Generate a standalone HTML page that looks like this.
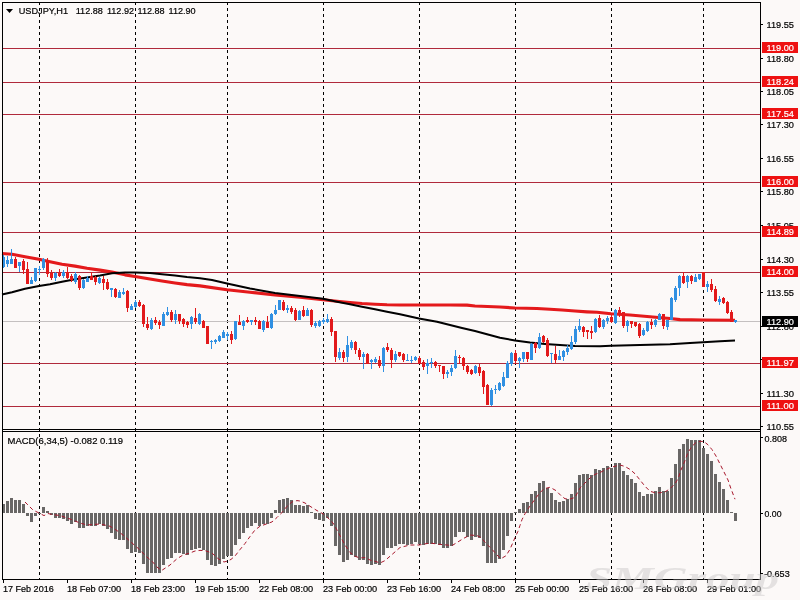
<!DOCTYPE html><html><head><meta charset="utf-8"><title>USDJPY,H1</title>
<style>html,body{margin:0;padding:0;background:#fcf9f8;overflow:hidden}svg{display:block;will-change:transform;opacity:0.999}text{font-family:"Liberation Sans",sans-serif;stroke-width:0.2px;paint-order:stroke}</style></head><body>
<svg width="800" height="600" viewBox="0 0 800 600">
<rect x="0" y="0" width="800" height="600" fill="#fcf9f8"/>
<g shape-rendering="crispEdges" stroke="#000" stroke-width="1" stroke-dasharray="3,3">
<line x1="39.5" y1="2" x2="39.5" y2="579"/>
<line x1="135.5" y1="2" x2="135.5" y2="579"/>
<line x1="227.5" y1="2" x2="227.5" y2="579"/>
<line x1="323.5" y1="2" x2="323.5" y2="579"/>
<line x1="419.5" y1="2" x2="419.5" y2="579"/>
<line x1="515.5" y1="2" x2="515.5" y2="579"/>
<line x1="611.5" y1="2" x2="611.5" y2="579"/>
<line x1="703.5" y1="2" x2="703.5" y2="579"/>
</g>
<g shape-rendering="crispEdges">
<rect x="3" y="48" width="757" height="1" fill="#b02a3c"/>
<rect x="3" y="82" width="757" height="1" fill="#b02a3c"/>
<rect x="3" y="114" width="757" height="1" fill="#b02a3c"/>
<rect x="3" y="182" width="757" height="1" fill="#b02a3c"/>
<rect x="3" y="232" width="757" height="1" fill="#b02a3c"/>
<rect x="3" y="272" width="757" height="1" fill="#b02a3c"/>
<rect x="3" y="363" width="757" height="1" fill="#b02a3c"/>
<rect x="3" y="406" width="757" height="1" fill="#b02a3c"/>
<rect x="3" y="321" width="757" height="1" fill="#c4c0c0"/>
</g>
<polyline fill="none" stroke="#e41a1c" stroke-width="3.2" stroke-linejoin="round" points="2,253.5 12,254.25 25,256.75 39,259.25 50,261.75 62,264.25 75,266.1 87,268.25 100,270.1 112,272 125,274.8 135,276.5 150,279 162,281 175,283 187,284.7 200,285.8 227,289.75 250,292.25 275,295 300,297.25 323,299.75 337,301.25 350,302.5 362,303.5 375,304.25 387,304.75 400,305 419,305 450,305 467,305.2 475,306 500,307 515,308 537,308.5 550,309.25 562,310 575,311 587,311.8 597,312.25 611,313.75 630,315 650,316.75 670,318.5 680,319.7 703,320 735,320.25"/>
<polyline fill="none" stroke="#000" stroke-width="2" stroke-linejoin="round" points="2,294.5 12,292.2 25,288.7 39,286.1 50,284.25 62,281.75 75,279.25 87,277.5 100,275.5 112,273.3 125,272.5 135,272.5 150,273 162,274.25 175,275.5 187,277 200,278.3 212,280 227,283.5 250,288.5 275,293 300,296 323,298.75 337,301.75 350,304.25 362,306.75 375,309.25 387,311.75 400,314.25 419,318.5 437,321.75 450,325 462,328 475,331 487,334.25 500,337.8 515,340.5 530,342.5 545,343.9 560,345 575,346 600,346.2 611,345.7 640,344.9 670,344.25 690,343 703,342.25 720,341.25 735,340.5"/>
<g shape-rendering="crispEdges">
<rect x="3" y="255" width="1" height="13" fill="#3090e2"/>
<rect x="3" y="257" width="2" height="10" fill="#3090e2"/>
<rect x="7" y="256" width="1" height="11" fill="#3090e2"/>
<rect x="6" y="260" width="3" height="4" fill="#3090e2"/>
<rect x="11" y="249" width="1" height="15" fill="#3090e2"/>
<rect x="10" y="259" width="3" height="5" fill="#3090e2"/>
<rect x="15" y="257" width="1" height="11" fill="#e21a1c"/>
<rect x="14" y="259" width="3" height="9" fill="#e21a1c"/>
<rect x="19" y="262" width="1" height="10" fill="#3090e2"/>
<rect x="18" y="262" width="3" height="4" fill="#3090e2"/>
<rect x="23" y="259" width="1" height="15" fill="#e21a1c"/>
<rect x="22" y="261" width="3" height="9" fill="#e21a1c"/>
<rect x="27" y="262" width="1" height="22" fill="#e21a1c"/>
<rect x="26" y="269" width="3" height="15" fill="#e21a1c"/>
<rect x="31" y="277" width="1" height="7" fill="#3090e2"/>
<rect x="30" y="280" width="3" height="4" fill="#3090e2"/>
<rect x="35" y="268" width="1" height="14" fill="#3090e2"/>
<rect x="34" y="268" width="3" height="13" fill="#3090e2"/>
<rect x="39" y="266" width="1" height="9" fill="#3090e2"/>
<rect x="38" y="269" width="3" height="1" fill="#3090e2"/>
<rect x="43" y="258" width="1" height="12" fill="#3090e2"/>
<rect x="42" y="259" width="3" height="9" fill="#3090e2"/>
<rect x="47" y="258" width="1" height="19" fill="#e21a1c"/>
<rect x="46" y="260" width="3" height="14" fill="#e21a1c"/>
<rect x="51" y="270" width="1" height="10" fill="#e21a1c"/>
<rect x="50" y="273" width="3" height="5" fill="#e21a1c"/>
<rect x="55" y="272" width="1" height="9" fill="#3090e2"/>
<rect x="54" y="273" width="3" height="5" fill="#3090e2"/>
<rect x="59" y="269" width="1" height="8" fill="#e21a1c"/>
<rect x="58" y="273" width="3" height="3" fill="#e21a1c"/>
<rect x="63" y="270" width="1" height="8" fill="#3090e2"/>
<rect x="62" y="272" width="3" height="4" fill="#3090e2"/>
<rect x="67" y="267" width="1" height="12" fill="#e21a1c"/>
<rect x="66" y="272" width="3" height="6" fill="#e21a1c"/>
<rect x="71" y="274" width="1" height="8" fill="#e21a1c"/>
<rect x="70" y="276" width="3" height="4" fill="#e21a1c"/>
<rect x="75" y="272" width="1" height="12" fill="#3090e2"/>
<rect x="74" y="274" width="3" height="8" fill="#3090e2"/>
<rect x="79" y="275" width="1" height="15" fill="#e21a1c"/>
<rect x="78" y="276" width="3" height="12" fill="#e21a1c"/>
<rect x="83" y="279" width="1" height="10" fill="#3090e2"/>
<rect x="82" y="280" width="3" height="8" fill="#3090e2"/>
<rect x="87" y="276" width="1" height="6" fill="#3090e2"/>
<rect x="86" y="278" width="3" height="4" fill="#3090e2"/>
<rect x="91" y="272" width="1" height="8" fill="#e21a1c"/>
<rect x="90" y="276" width="3" height="4" fill="#e21a1c"/>
<rect x="95" y="276" width="1" height="9" fill="#e21a1c"/>
<rect x="94" y="277" width="3" height="5" fill="#e21a1c"/>
<rect x="99" y="277" width="1" height="7" fill="#3090e2"/>
<rect x="98" y="278" width="3" height="5" fill="#3090e2"/>
<rect x="103" y="276" width="1" height="14" fill="#e21a1c"/>
<rect x="102" y="279" width="3" height="4" fill="#e21a1c"/>
<rect x="107" y="279" width="1" height="11" fill="#e21a1c"/>
<rect x="106" y="282" width="3" height="7" fill="#e21a1c"/>
<rect x="111" y="288" width="1" height="9" fill="#3090e2"/>
<rect x="110" y="288" width="3" height="2" fill="#3090e2"/>
<rect x="115" y="288" width="1" height="10" fill="#e21a1c"/>
<rect x="114" y="289" width="3" height="8" fill="#e21a1c"/>
<rect x="119" y="290" width="1" height="8" fill="#3090e2"/>
<rect x="118" y="292" width="3" height="6" fill="#3090e2"/>
<rect x="123" y="288" width="1" height="7" fill="#3090e2"/>
<rect x="122" y="292" width="3" height="2" fill="#3090e2"/>
<rect x="127" y="290" width="1" height="22" fill="#e21a1c"/>
<rect x="126" y="291" width="3" height="17" fill="#e21a1c"/>
<rect x="131" y="304" width="1" height="6" fill="#3090e2"/>
<rect x="130" y="306" width="3" height="4" fill="#3090e2"/>
<rect x="135" y="300" width="1" height="8" fill="#3090e2"/>
<rect x="134" y="302" width="3" height="5" fill="#3090e2"/>
<rect x="139" y="300" width="1" height="7" fill="#e21a1c"/>
<rect x="138" y="302" width="3" height="4" fill="#e21a1c"/>
<rect x="143" y="304" width="1" height="23" fill="#e21a1c"/>
<rect x="142" y="305" width="3" height="19" fill="#e21a1c"/>
<rect x="147" y="317" width="1" height="13" fill="#e21a1c"/>
<rect x="146" y="324" width="3" height="4" fill="#e21a1c"/>
<rect x="151" y="318" width="1" height="12" fill="#3090e2"/>
<rect x="150" y="320" width="3" height="9" fill="#3090e2"/>
<rect x="155" y="317" width="1" height="8" fill="#e21a1c"/>
<rect x="154" y="320" width="3" height="3" fill="#e21a1c"/>
<rect x="159" y="320" width="1" height="9" fill="#e21a1c"/>
<rect x="158" y="322" width="3" height="3" fill="#e21a1c"/>
<rect x="163" y="312" width="1" height="14" fill="#3090e2"/>
<rect x="162" y="314" width="3" height="12" fill="#3090e2"/>
<rect x="167" y="307" width="1" height="9" fill="#3090e2"/>
<rect x="166" y="312" width="3" height="3" fill="#3090e2"/>
<rect x="171" y="310" width="1" height="12" fill="#e21a1c"/>
<rect x="170" y="312" width="3" height="8" fill="#e21a1c"/>
<rect x="175" y="310" width="1" height="14" fill="#3090e2"/>
<rect x="174" y="314" width="3" height="6" fill="#3090e2"/>
<rect x="179" y="314" width="1" height="10" fill="#e21a1c"/>
<rect x="178" y="314" width="3" height="7" fill="#e21a1c"/>
<rect x="183" y="318" width="1" height="9" fill="#e21a1c"/>
<rect x="182" y="319" width="3" height="5" fill="#e21a1c"/>
<rect x="187" y="321" width="1" height="7" fill="#e21a1c"/>
<rect x="186" y="322" width="3" height="3" fill="#e21a1c"/>
<rect x="191" y="316" width="1" height="13" fill="#3090e2"/>
<rect x="190" y="317" width="3" height="7" fill="#3090e2"/>
<rect x="195" y="308" width="1" height="16" fill="#e21a1c"/>
<rect x="194" y="318" width="3" height="4" fill="#e21a1c"/>
<rect x="199" y="313" width="1" height="12" fill="#3090e2"/>
<rect x="198" y="314" width="3" height="10" fill="#3090e2"/>
<rect x="203" y="320" width="1" height="8" fill="#e21a1c"/>
<rect x="202" y="321" width="3" height="7" fill="#e21a1c"/>
<rect x="207" y="326" width="1" height="18" fill="#e21a1c"/>
<rect x="206" y="326" width="3" height="18" fill="#e21a1c"/>
<rect x="211" y="340" width="1" height="9" fill="#3090e2"/>
<rect x="210" y="341" width="3" height="1" fill="#3090e2"/>
<rect x="215" y="339" width="1" height="5" fill="#3090e2"/>
<rect x="214" y="340" width="3" height="2" fill="#3090e2"/>
<rect x="219" y="335" width="1" height="7" fill="#3090e2"/>
<rect x="218" y="336" width="3" height="5" fill="#3090e2"/>
<rect x="223" y="330" width="1" height="8" fill="#3090e2"/>
<rect x="222" y="332" width="3" height="6" fill="#3090e2"/>
<rect x="227" y="332" width="1" height="8" fill="#3090e2"/>
<rect x="226" y="334" width="3" height="2" fill="#3090e2"/>
<rect x="231" y="331" width="1" height="13" fill="#e21a1c"/>
<rect x="230" y="334" width="3" height="6" fill="#e21a1c"/>
<rect x="235" y="321" width="1" height="19" fill="#3090e2"/>
<rect x="234" y="321" width="3" height="18" fill="#3090e2"/>
<rect x="239" y="315" width="1" height="10" fill="#e21a1c"/>
<rect x="238" y="322" width="3" height="3" fill="#e21a1c"/>
<rect x="243" y="320" width="1" height="10" fill="#3090e2"/>
<rect x="242" y="321" width="3" height="5" fill="#3090e2"/>
<rect x="247" y="317" width="1" height="6" fill="#e21a1c"/>
<rect x="246" y="320" width="3" height="2" fill="#e21a1c"/>
<rect x="251" y="320" width="1" height="5" fill="#3090e2"/>
<rect x="250" y="320" width="3" height="2" fill="#3090e2"/>
<rect x="255" y="317" width="1" height="8" fill="#e21a1c"/>
<rect x="254" y="320" width="3" height="2" fill="#e21a1c"/>
<rect x="259" y="320" width="1" height="9" fill="#e21a1c"/>
<rect x="258" y="321" width="3" height="8" fill="#e21a1c"/>
<rect x="263" y="320" width="1" height="12" fill="#3090e2"/>
<rect x="262" y="321" width="3" height="9" fill="#3090e2"/>
<rect x="267" y="316" width="1" height="12" fill="#e21a1c"/>
<rect x="266" y="322" width="3" height="6" fill="#e21a1c"/>
<rect x="271" y="313" width="1" height="16" fill="#3090e2"/>
<rect x="270" y="314" width="3" height="14" fill="#3090e2"/>
<rect x="275" y="305" width="1" height="10" fill="#3090e2"/>
<rect x="274" y="310" width="3" height="4" fill="#3090e2"/>
<rect x="279" y="300" width="1" height="10" fill="#3090e2"/>
<rect x="278" y="300" width="3" height="10" fill="#3090e2"/>
<rect x="283" y="300" width="1" height="11" fill="#e21a1c"/>
<rect x="282" y="302" width="3" height="8" fill="#e21a1c"/>
<rect x="287" y="305" width="1" height="8" fill="#3090e2"/>
<rect x="286" y="308" width="3" height="2" fill="#3090e2"/>
<rect x="291" y="306" width="1" height="8" fill="#e21a1c"/>
<rect x="290" y="308" width="3" height="4" fill="#e21a1c"/>
<rect x="295" y="308" width="1" height="13" fill="#e21a1c"/>
<rect x="294" y="310" width="3" height="10" fill="#e21a1c"/>
<rect x="299" y="310" width="1" height="10" fill="#3090e2"/>
<rect x="298" y="311" width="3" height="9" fill="#3090e2"/>
<rect x="303" y="306" width="1" height="11" fill="#e21a1c"/>
<rect x="302" y="310" width="3" height="6" fill="#e21a1c"/>
<rect x="307" y="308" width="1" height="8" fill="#3090e2"/>
<rect x="306" y="310" width="3" height="6" fill="#3090e2"/>
<rect x="311" y="309" width="1" height="18" fill="#e21a1c"/>
<rect x="310" y="310" width="3" height="15" fill="#e21a1c"/>
<rect x="315" y="321" width="1" height="7" fill="#3090e2"/>
<rect x="314" y="323" width="3" height="3" fill="#3090e2"/>
<rect x="319" y="320" width="1" height="7" fill="#3090e2"/>
<rect x="318" y="321" width="3" height="5" fill="#3090e2"/>
<rect x="323" y="318" width="1" height="6" fill="#3090e2"/>
<rect x="322" y="320" width="3" height="2" fill="#3090e2"/>
<rect x="327" y="314" width="1" height="9" fill="#3090e2"/>
<rect x="326" y="319" width="3" height="3" fill="#3090e2"/>
<rect x="331" y="317" width="1" height="19" fill="#e21a1c"/>
<rect x="330" y="319" width="3" height="13" fill="#e21a1c"/>
<rect x="335" y="331" width="1" height="31" fill="#e21a1c"/>
<rect x="334" y="331" width="3" height="26" fill="#e21a1c"/>
<rect x="339" y="348" width="1" height="12" fill="#3090e2"/>
<rect x="338" y="352" width="3" height="6" fill="#3090e2"/>
<rect x="343" y="350" width="1" height="12" fill="#e21a1c"/>
<rect x="342" y="352" width="3" height="6" fill="#e21a1c"/>
<rect x="347" y="336" width="1" height="26" fill="#3090e2"/>
<rect x="346" y="345" width="3" height="12" fill="#3090e2"/>
<rect x="351" y="340" width="1" height="10" fill="#3090e2"/>
<rect x="350" y="342" width="3" height="6" fill="#3090e2"/>
<rect x="355" y="341" width="1" height="13" fill="#e21a1c"/>
<rect x="354" y="342" width="3" height="8" fill="#e21a1c"/>
<rect x="359" y="348" width="1" height="12" fill="#e21a1c"/>
<rect x="358" y="350" width="3" height="7" fill="#e21a1c"/>
<rect x="363" y="352" width="1" height="17" fill="#3090e2"/>
<rect x="362" y="354" width="3" height="3" fill="#3090e2"/>
<rect x="367" y="353" width="1" height="11" fill="#e21a1c"/>
<rect x="366" y="354" width="3" height="10" fill="#e21a1c"/>
<rect x="371" y="359" width="1" height="10" fill="#3090e2"/>
<rect x="370" y="360" width="3" height="2" fill="#3090e2"/>
<rect x="375" y="357" width="1" height="6" fill="#3090e2"/>
<rect x="374" y="359" width="3" height="3" fill="#3090e2"/>
<rect x="379" y="356" width="1" height="12" fill="#e21a1c"/>
<rect x="378" y="360" width="3" height="6" fill="#e21a1c"/>
<rect x="383" y="347" width="1" height="25" fill="#3090e2"/>
<rect x="382" y="348" width="3" height="18" fill="#3090e2"/>
<rect x="387" y="343" width="1" height="9" fill="#e21a1c"/>
<rect x="386" y="347" width="3" height="3" fill="#e21a1c"/>
<rect x="391" y="348" width="1" height="20" fill="#e21a1c"/>
<rect x="390" y="350" width="3" height="10" fill="#e21a1c"/>
<rect x="395" y="351" width="1" height="11" fill="#3090e2"/>
<rect x="394" y="354" width="3" height="6" fill="#3090e2"/>
<rect x="399" y="352" width="1" height="5" fill="#e21a1c"/>
<rect x="398" y="352" width="3" height="4" fill="#e21a1c"/>
<rect x="403" y="353" width="1" height="9" fill="#e21a1c"/>
<rect x="402" y="354" width="3" height="6" fill="#e21a1c"/>
<rect x="407" y="354" width="1" height="6" fill="#3090e2"/>
<rect x="406" y="360" width="3" height="1" fill="#3090e2"/>
<rect x="411" y="356" width="1" height="7" fill="#3090e2"/>
<rect x="410" y="360" width="3" height="1" fill="#3090e2"/>
<rect x="415" y="356" width="1" height="5" fill="#3090e2"/>
<rect x="414" y="357" width="3" height="3" fill="#3090e2"/>
<rect x="419" y="356" width="1" height="8" fill="#e21a1c"/>
<rect x="418" y="358" width="3" height="6" fill="#e21a1c"/>
<rect x="423" y="360" width="1" height="10" fill="#e21a1c"/>
<rect x="422" y="362" width="3" height="5" fill="#e21a1c"/>
<rect x="427" y="359" width="1" height="15" fill="#3090e2"/>
<rect x="426" y="363" width="3" height="3" fill="#3090e2"/>
<rect x="431" y="358" width="1" height="10" fill="#3090e2"/>
<rect x="430" y="362" width="3" height="1" fill="#3090e2"/>
<rect x="435" y="361" width="1" height="7" fill="#e21a1c"/>
<rect x="434" y="362" width="3" height="4" fill="#e21a1c"/>
<rect x="439" y="365" width="1" height="7" fill="#e21a1c"/>
<rect x="438" y="365" width="3" height="1" fill="#e21a1c"/>
<rect x="443" y="366" width="1" height="13" fill="#e21a1c"/>
<rect x="442" y="366" width="3" height="8" fill="#e21a1c"/>
<rect x="447" y="370" width="1" height="8" fill="#3090e2"/>
<rect x="446" y="372" width="3" height="2" fill="#3090e2"/>
<rect x="451" y="365" width="1" height="11" fill="#3090e2"/>
<rect x="450" y="368" width="3" height="4" fill="#3090e2"/>
<rect x="455" y="350" width="1" height="19" fill="#3090e2"/>
<rect x="454" y="356" width="3" height="12" fill="#3090e2"/>
<rect x="459" y="355" width="1" height="9" fill="#e21a1c"/>
<rect x="458" y="357" width="3" height="1" fill="#e21a1c"/>
<rect x="463" y="357" width="1" height="13" fill="#e21a1c"/>
<rect x="462" y="358" width="3" height="8" fill="#e21a1c"/>
<rect x="467" y="365" width="1" height="9" fill="#e21a1c"/>
<rect x="466" y="366" width="3" height="6" fill="#e21a1c"/>
<rect x="471" y="369" width="1" height="6" fill="#e21a1c"/>
<rect x="470" y="370" width="3" height="4" fill="#e21a1c"/>
<rect x="475" y="365" width="1" height="9" fill="#3090e2"/>
<rect x="474" y="366" width="3" height="7" fill="#3090e2"/>
<rect x="479" y="364" width="1" height="12" fill="#e21a1c"/>
<rect x="478" y="367" width="3" height="6" fill="#e21a1c"/>
<rect x="483" y="370" width="1" height="24" fill="#e21a1c"/>
<rect x="482" y="371" width="3" height="16" fill="#e21a1c"/>
<rect x="487" y="384" width="1" height="21" fill="#e21a1c"/>
<rect x="486" y="385" width="3" height="20" fill="#e21a1c"/>
<rect x="491" y="388" width="1" height="18" fill="#3090e2"/>
<rect x="490" y="390" width="3" height="15" fill="#3090e2"/>
<rect x="495" y="385" width="1" height="9" fill="#3090e2"/>
<rect x="494" y="389" width="3" height="1" fill="#3090e2"/>
<rect x="499" y="382" width="1" height="9" fill="#3090e2"/>
<rect x="498" y="383" width="3" height="7" fill="#3090e2"/>
<rect x="503" y="372" width="1" height="15" fill="#3090e2"/>
<rect x="502" y="377" width="3" height="9" fill="#3090e2"/>
<rect x="507" y="361" width="1" height="17" fill="#3090e2"/>
<rect x="506" y="363" width="3" height="15" fill="#3090e2"/>
<rect x="511" y="352" width="1" height="14" fill="#3090e2"/>
<rect x="510" y="353" width="3" height="11" fill="#3090e2"/>
<rect x="515" y="350" width="1" height="14" fill="#e21a1c"/>
<rect x="514" y="353" width="3" height="8" fill="#e21a1c"/>
<rect x="519" y="357" width="1" height="11" fill="#3090e2"/>
<rect x="518" y="358" width="3" height="3" fill="#3090e2"/>
<rect x="523" y="352" width="1" height="10" fill="#3090e2"/>
<rect x="522" y="352" width="3" height="7" fill="#3090e2"/>
<rect x="527" y="352" width="1" height="10" fill="#e21a1c"/>
<rect x="526" y="352" width="3" height="7" fill="#e21a1c"/>
<rect x="531" y="343" width="1" height="17" fill="#3090e2"/>
<rect x="530" y="344" width="3" height="16" fill="#3090e2"/>
<rect x="535" y="342" width="1" height="11" fill="#e21a1c"/>
<rect x="534" y="343" width="3" height="5" fill="#e21a1c"/>
<rect x="539" y="333" width="1" height="16" fill="#3090e2"/>
<rect x="538" y="337" width="3" height="11" fill="#3090e2"/>
<rect x="543" y="335" width="1" height="8" fill="#e21a1c"/>
<rect x="542" y="336" width="3" height="6" fill="#e21a1c"/>
<rect x="547" y="338" width="1" height="19" fill="#e21a1c"/>
<rect x="546" y="340" width="3" height="16" fill="#e21a1c"/>
<rect x="551" y="353" width="1" height="10" fill="#3090e2"/>
<rect x="550" y="353" width="3" height="1" fill="#3090e2"/>
<rect x="555" y="346" width="1" height="17" fill="#e21a1c"/>
<rect x="554" y="354" width="3" height="6" fill="#e21a1c"/>
<rect x="559" y="350" width="1" height="10" fill="#3090e2"/>
<rect x="558" y="356" width="3" height="4" fill="#3090e2"/>
<rect x="563" y="350" width="1" height="11" fill="#3090e2"/>
<rect x="562" y="351" width="3" height="6" fill="#3090e2"/>
<rect x="567" y="345" width="1" height="10" fill="#3090e2"/>
<rect x="566" y="348" width="3" height="4" fill="#3090e2"/>
<rect x="571" y="336" width="1" height="14" fill="#3090e2"/>
<rect x="570" y="342" width="3" height="7" fill="#3090e2"/>
<rect x="575" y="326" width="1" height="18" fill="#3090e2"/>
<rect x="574" y="329" width="3" height="13" fill="#3090e2"/>
<rect x="579" y="319" width="1" height="13" fill="#3090e2"/>
<rect x="578" y="326" width="3" height="4" fill="#3090e2"/>
<rect x="583" y="326" width="1" height="11" fill="#e21a1c"/>
<rect x="582" y="327" width="3" height="5" fill="#e21a1c"/>
<rect x="587" y="330" width="1" height="9" fill="#e21a1c"/>
<rect x="586" y="330" width="3" height="2" fill="#e21a1c"/>
<rect x="591" y="326" width="1" height="13" fill="#e21a1c"/>
<rect x="590" y="331" width="3" height="2" fill="#e21a1c"/>
<rect x="595" y="318" width="1" height="15" fill="#3090e2"/>
<rect x="594" y="319" width="3" height="13" fill="#3090e2"/>
<rect x="599" y="315" width="1" height="13" fill="#e21a1c"/>
<rect x="598" y="318" width="3" height="9" fill="#e21a1c"/>
<rect x="603" y="319" width="1" height="10" fill="#3090e2"/>
<rect x="602" y="320" width="3" height="7" fill="#3090e2"/>
<rect x="607" y="316" width="1" height="8" fill="#3090e2"/>
<rect x="606" y="318" width="3" height="3" fill="#3090e2"/>
<rect x="611" y="314" width="1" height="9" fill="#e21a1c"/>
<rect x="610" y="317" width="3" height="5" fill="#e21a1c"/>
<rect x="615" y="309" width="1" height="15" fill="#3090e2"/>
<rect x="614" y="310" width="3" height="13" fill="#3090e2"/>
<rect x="619" y="307" width="1" height="10" fill="#e21a1c"/>
<rect x="618" y="310" width="3" height="4" fill="#e21a1c"/>
<rect x="623" y="312" width="1" height="16" fill="#e21a1c"/>
<rect x="622" y="312" width="3" height="14" fill="#e21a1c"/>
<rect x="627" y="320" width="1" height="12" fill="#3090e2"/>
<rect x="626" y="321" width="3" height="5" fill="#3090e2"/>
<rect x="631" y="321" width="1" height="7" fill="#e21a1c"/>
<rect x="630" y="321" width="3" height="3" fill="#e21a1c"/>
<rect x="635" y="322" width="1" height="5" fill="#e21a1c"/>
<rect x="634" y="322" width="3" height="4" fill="#e21a1c"/>
<rect x="639" y="323" width="1" height="15" fill="#e21a1c"/>
<rect x="638" y="324" width="3" height="12" fill="#e21a1c"/>
<rect x="643" y="328" width="1" height="8" fill="#3090e2"/>
<rect x="642" y="330" width="3" height="5" fill="#3090e2"/>
<rect x="647" y="321" width="1" height="11" fill="#3090e2"/>
<rect x="646" y="322" width="3" height="9" fill="#3090e2"/>
<rect x="651" y="319" width="1" height="10" fill="#e21a1c"/>
<rect x="650" y="322" width="3" height="3" fill="#e21a1c"/>
<rect x="655" y="319" width="1" height="8" fill="#3090e2"/>
<rect x="654" y="320" width="3" height="5" fill="#3090e2"/>
<rect x="659" y="313" width="1" height="7" fill="#3090e2"/>
<rect x="658" y="314" width="3" height="6" fill="#3090e2"/>
<rect x="663" y="314" width="1" height="15" fill="#e21a1c"/>
<rect x="662" y="314" width="3" height="12" fill="#e21a1c"/>
<rect x="667" y="320" width="1" height="10" fill="#3090e2"/>
<rect x="666" y="320" width="3" height="7" fill="#3090e2"/>
<rect x="671" y="297" width="1" height="23" fill="#3090e2"/>
<rect x="670" y="298" width="3" height="22" fill="#3090e2"/>
<rect x="675" y="286" width="1" height="16" fill="#3090e2"/>
<rect x="674" y="288" width="3" height="12" fill="#3090e2"/>
<rect x="679" y="275" width="1" height="21" fill="#3090e2"/>
<rect x="678" y="276" width="3" height="12" fill="#3090e2"/>
<rect x="683" y="272" width="1" height="12" fill="#e21a1c"/>
<rect x="682" y="276" width="3" height="7" fill="#e21a1c"/>
<rect x="687" y="275" width="1" height="13" fill="#3090e2"/>
<rect x="686" y="276" width="3" height="6" fill="#3090e2"/>
<rect x="691" y="275" width="1" height="9" fill="#e21a1c"/>
<rect x="690" y="276" width="3" height="5" fill="#e21a1c"/>
<rect x="695" y="274" width="1" height="8" fill="#3090e2"/>
<rect x="694" y="277" width="3" height="5" fill="#3090e2"/>
<rect x="699" y="274" width="1" height="6" fill="#3090e2"/>
<rect x="698" y="274" width="3" height="5" fill="#3090e2"/>
<rect x="703" y="272" width="1" height="15" fill="#e21a1c"/>
<rect x="702" y="272" width="3" height="15" fill="#e21a1c"/>
<rect x="707" y="281" width="1" height="11" fill="#3090e2"/>
<rect x="706" y="284" width="3" height="3" fill="#3090e2"/>
<rect x="711" y="279" width="1" height="13" fill="#e21a1c"/>
<rect x="710" y="284" width="3" height="6" fill="#e21a1c"/>
<rect x="715" y="286" width="1" height="16" fill="#e21a1c"/>
<rect x="714" y="289" width="3" height="12" fill="#e21a1c"/>
<rect x="719" y="296" width="1" height="9" fill="#3090e2"/>
<rect x="718" y="299" width="3" height="3" fill="#3090e2"/>
<rect x="723" y="297" width="1" height="7" fill="#e21a1c"/>
<rect x="722" y="298" width="3" height="5" fill="#e21a1c"/>
<rect x="727" y="301" width="1" height="13" fill="#e21a1c"/>
<rect x="726" y="302" width="3" height="11" fill="#e21a1c"/>
<rect x="731" y="310" width="1" height="12" fill="#e21a1c"/>
<rect x="730" y="312" width="3" height="10" fill="#e21a1c"/>
<rect x="735" y="320" width="1" height="3" fill="#3090e2"/>
<rect x="734" y="320" width="3" height="2" fill="#3090e2"/>
</g>
<g shape-rendering="crispEdges" fill="#696766">
<rect x="3" y="504" width="2" height="9"/>
<rect x="6" y="501" width="3" height="12"/>
<rect x="10" y="498" width="3" height="15"/>
<rect x="14" y="500" width="3" height="13"/>
<rect x="18" y="500" width="3" height="13"/>
<rect x="22" y="504" width="3" height="9"/>
<rect x="26" y="513" width="3" height="3"/>
<rect x="30" y="513" width="3" height="9"/>
<rect x="34" y="513" width="3" height="3"/>
<rect x="38" y="513" width="3" height="1"/>
<rect x="42" y="507" width="3" height="6"/>
<rect x="46" y="511" width="3" height="2"/>
<rect x="50" y="513" width="3" height="2"/>
<rect x="54" y="513" width="3" height="5"/>
<rect x="58" y="513" width="3" height="5"/>
<rect x="62" y="513" width="3" height="6"/>
<rect x="66" y="513" width="3" height="8"/>
<rect x="70" y="513" width="3" height="11"/>
<rect x="74" y="513" width="3" height="9"/>
<rect x="78" y="513" width="3" height="15"/>
<rect x="82" y="513" width="3" height="15"/>
<rect x="86" y="513" width="3" height="13"/>
<rect x="90" y="513" width="3" height="13"/>
<rect x="94" y="513" width="3" height="13"/>
<rect x="98" y="513" width="3" height="11"/>
<rect x="102" y="513" width="3" height="13"/>
<rect x="106" y="513" width="3" height="16"/>
<rect x="110" y="513" width="3" height="20"/>
<rect x="114" y="513" width="3" height="26"/>
<rect x="118" y="513" width="3" height="27"/>
<rect x="122" y="513" width="3" height="27"/>
<rect x="126" y="513" width="3" height="36"/>
<rect x="130" y="513" width="3" height="40"/>
<rect x="134" y="513" width="3" height="39"/>
<rect x="138" y="513" width="3" height="40"/>
<rect x="142" y="513" width="3" height="51"/>
<rect x="146" y="513" width="3" height="60"/>
<rect x="150" y="513" width="3" height="60"/>
<rect x="154" y="513" width="3" height="60"/>
<rect x="158" y="513" width="3" height="60"/>
<rect x="162" y="513" width="3" height="52"/>
<rect x="166" y="513" width="3" height="46"/>
<rect x="170" y="513" width="3" height="45"/>
<rect x="174" y="513" width="3" height="40"/>
<rect x="178" y="513" width="3" height="40"/>
<rect x="182" y="513" width="3" height="41"/>
<rect x="186" y="513" width="3" height="42"/>
<rect x="190" y="513" width="3" height="37"/>
<rect x="194" y="513" width="3" height="36"/>
<rect x="198" y="513" width="3" height="35"/>
<rect x="202" y="513" width="3" height="37"/>
<rect x="206" y="513" width="3" height="47"/>
<rect x="210" y="513" width="3" height="52"/>
<rect x="214" y="513" width="3" height="53"/>
<rect x="218" y="513" width="3" height="51"/>
<rect x="222" y="513" width="3" height="46"/>
<rect x="226" y="513" width="3" height="43"/>
<rect x="230" y="513" width="3" height="43"/>
<rect x="234" y="513" width="3" height="32"/>
<rect x="238" y="513" width="3" height="26"/>
<rect x="242" y="513" width="3" height="20"/>
<rect x="246" y="513" width="3" height="15"/>
<rect x="250" y="513" width="3" height="13"/>
<rect x="254" y="513" width="3" height="10"/>
<rect x="258" y="513" width="3" height="13"/>
<rect x="262" y="513" width="3" height="11"/>
<rect x="266" y="513" width="3" height="11"/>
<rect x="270" y="513" width="3" height="5"/>
<rect x="274" y="510" width="3" height="3"/>
<rect x="278" y="500" width="3" height="13"/>
<rect x="282" y="499" width="3" height="14"/>
<rect x="286" y="498" width="3" height="15"/>
<rect x="290" y="500" width="3" height="13"/>
<rect x="294" y="505" width="3" height="8"/>
<rect x="298" y="505" width="3" height="8"/>
<rect x="302" y="506" width="3" height="7"/>
<rect x="306" y="505" width="3" height="8"/>
<rect x="310" y="512" width="3" height="1"/>
<rect x="314" y="513" width="3" height="6"/>
<rect x="318" y="513" width="3" height="7"/>
<rect x="322" y="513" width="3" height="8"/>
<rect x="326" y="513" width="3" height="5"/>
<rect x="330" y="513" width="3" height="13"/>
<rect x="334" y="513" width="3" height="33"/>
<rect x="338" y="513" width="3" height="42"/>
<rect x="342" y="513" width="3" height="49"/>
<rect x="346" y="513" width="3" height="47"/>
<rect x="350" y="513" width="3" height="42"/>
<rect x="354" y="513" width="3" height="44"/>
<rect x="358" y="513" width="3" height="47"/>
<rect x="362" y="513" width="3" height="47"/>
<rect x="366" y="513" width="3" height="51"/>
<rect x="370" y="513" width="3" height="52"/>
<rect x="374" y="513" width="3" height="51"/>
<rect x="378" y="513" width="3" height="52"/>
<rect x="382" y="513" width="3" height="42"/>
<rect x="386" y="513" width="3" height="35"/>
<rect x="390" y="513" width="3" height="35"/>
<rect x="394" y="513" width="3" height="33"/>
<rect x="398" y="513" width="3" height="31"/>
<rect x="402" y="513" width="3" height="31"/>
<rect x="406" y="513" width="3" height="32"/>
<rect x="410" y="513" width="3" height="31"/>
<rect x="414" y="513" width="3" height="29"/>
<rect x="418" y="513" width="3" height="31"/>
<rect x="422" y="513" width="3" height="32"/>
<rect x="426" y="513" width="3" height="31"/>
<rect x="430" y="513" width="3" height="31"/>
<rect x="434" y="513" width="3" height="31"/>
<rect x="438" y="513" width="3" height="32"/>
<rect x="442" y="513" width="3" height="35"/>
<rect x="446" y="513" width="3" height="35"/>
<rect x="450" y="513" width="3" height="33"/>
<rect x="454" y="513" width="3" height="24"/>
<rect x="458" y="513" width="3" height="19"/>
<rect x="462" y="513" width="3" height="19"/>
<rect x="466" y="513" width="3" height="24"/>
<rect x="470" y="513" width="3" height="27"/>
<rect x="474" y="513" width="3" height="24"/>
<rect x="478" y="513" width="3" height="25"/>
<rect x="482" y="513" width="3" height="33"/>
<rect x="486" y="513" width="3" height="50"/>
<rect x="490" y="513" width="3" height="50"/>
<rect x="494" y="513" width="3" height="50"/>
<rect x="498" y="513" width="3" height="46"/>
<rect x="502" y="513" width="3" height="37"/>
<rect x="506" y="513" width="3" height="23"/>
<rect x="510" y="513" width="3" height="8"/>
<rect x="514" y="512" width="3" height="1"/>
<rect x="518" y="509" width="3" height="4"/>
<rect x="522" y="503" width="3" height="10"/>
<rect x="526" y="502" width="3" height="11"/>
<rect x="530" y="494" width="3" height="19"/>
<rect x="534" y="491" width="3" height="22"/>
<rect x="538" y="483" width="3" height="30"/>
<rect x="542" y="481" width="3" height="32"/>
<rect x="546" y="488" width="3" height="25"/>
<rect x="550" y="493" width="3" height="20"/>
<rect x="554" y="500" width="3" height="13"/>
<rect x="558" y="502" width="3" height="11"/>
<rect x="562" y="501" width="3" height="12"/>
<rect x="566" y="499" width="3" height="14"/>
<rect x="570" y="494" width="3" height="19"/>
<rect x="574" y="483" width="3" height="30"/>
<rect x="578" y="475" width="3" height="38"/>
<rect x="582" y="474" width="3" height="39"/>
<rect x="586" y="474" width="3" height="39"/>
<rect x="590" y="475" width="3" height="38"/>
<rect x="594" y="469" width="3" height="44"/>
<rect x="598" y="470" width="3" height="43"/>
<rect x="602" y="468" width="3" height="45"/>
<rect x="606" y="466" width="3" height="47"/>
<rect x="610" y="468" width="3" height="45"/>
<rect x="614" y="463" width="3" height="50"/>
<rect x="618" y="463" width="3" height="50"/>
<rect x="622" y="471" width="3" height="42"/>
<rect x="626" y="475" width="3" height="38"/>
<rect x="630" y="479" width="3" height="34"/>
<rect x="634" y="483" width="3" height="30"/>
<rect x="638" y="492" width="3" height="21"/>
<rect x="642" y="496" width="3" height="17"/>
<rect x="646" y="494" width="3" height="19"/>
<rect x="650" y="494" width="3" height="19"/>
<rect x="654" y="491" width="3" height="22"/>
<rect x="658" y="487" width="3" height="26"/>
<rect x="662" y="491" width="3" height="22"/>
<rect x="666" y="491" width="3" height="22"/>
<rect x="670" y="478" width="3" height="35"/>
<rect x="674" y="464" width="3" height="49"/>
<rect x="678" y="449" width="3" height="64"/>
<rect x="682" y="444" width="3" height="69"/>
<rect x="686" y="439" width="3" height="74"/>
<rect x="690" y="440" width="3" height="73"/>
<rect x="694" y="440" width="3" height="73"/>
<rect x="698" y="440" width="3" height="73"/>
<rect x="702" y="448" width="3" height="65"/>
<rect x="706" y="454" width="3" height="59"/>
<rect x="710" y="461" width="3" height="52"/>
<rect x="714" y="474" width="3" height="39"/>
<rect x="718" y="482" width="3" height="31"/>
<rect x="722" y="489" width="3" height="24"/>
<rect x="726" y="500" width="3" height="13"/>
<rect x="730" y="512" width="3" height="1"/>
<rect x="734" y="513" width="3" height="8"/>
</g>
<polyline fill="none" stroke="#a8182c" stroke-width="1" stroke-dasharray="4,3" points="25,502 29,506 33,510 39,513 44,515.6 48,513.5 52,514.5 60,515.5 70,519 80,523 87,525 100,524 110,526.25 117,530.6 123,535 130,541.25 135,545.6 140,550 146,556.25 152,561.25 158,568 162,570.25 170,565 177,558.75 183,555 190,553 195,551 200,550.4 205,550.6 212,553 218,558.6 224,562 228,560.9 231,559.4 235,556 240,549.6 245,543.5 250,536.5 255,530 260,526.25 267,523.75 272,521.9 277,517.5 282,512.5 287,506.25 292,501.9 297,500.6 300,501 305,503 311,506.9 317,510.6 323,513.75 328,518 333,523 337,530 341,537.5 345,545 350,552.5 355,556.25 360,558 365,557.5 370,560 375,561.25 380,563 385,560.6 390,556.25 395,551.9 400,547.5 410,545 419,545 430,543 440,544.4 447,545 452,545.6 457,542.5 463,538.75 470,535 477,535.6 481,537.5 484,541 488,545.25 492,549.3 497,555 501,558.7 506,555.75 510,549.3 513,542.3 515.5,536.5 518,531.25 520,525.4 522,519.6 525,513.75 529,507.5 534,500.6 539,493.75 544,488.75 550,487.25 556,490.6 561,495.6 565,498.75 570,499 575,497.5 580,488 585,483 590,478 595,474.4 600,472.5 605,470 610,467.75 615,466.25 620,465 625,466.5 630,469.4 635,473.75 640,480 645,486.25 650,491.25 655,492.75 660,492.75 665,491.9 670,488.75 675,483.75 678,478.75 681,470 685,460.6 688,452.5 692,446.25 696,442.5 700,441.3 704,441.6 708,444.8 712,449.6 716,456 720,464 724,472 728,480 731,488.8 735,499.2"/>
<g shape-rendering="crispEdges" fill="#000">
<rect x="2" y="2" width="759" height="1"/>
<rect x="2" y="2" width="1" height="578"/>
<rect x="760" y="2" width="1" height="578"/>
<rect x="2" y="429" width="759" height="1"/>
<rect x="2" y="431" width="759" height="1"/>
<rect x="2" y="579" width="759" height="1"/>
<rect x="761" y="24" width="2" height="1"/>
<rect x="761" y="58" width="2" height="1"/>
<rect x="761" y="91" width="2" height="1"/>
<rect x="761" y="124" width="2" height="1"/>
<rect x="761" y="158" width="2" height="1"/>
<rect x="761" y="191" width="2" height="1"/>
<rect x="761" y="225" width="2" height="1"/>
<rect x="761" y="259" width="2" height="1"/>
<rect x="761" y="292" width="2" height="1"/>
<rect x="761" y="326" width="2" height="1"/>
<rect x="761" y="359" width="2" height="1"/>
<rect x="761" y="393" width="2" height="1"/>
<rect x="761" y="426" width="2" height="1"/>
<rect x="761" y="437" width="2" height="1"/>
<rect x="761" y="513" width="2" height="1"/>
<rect x="761" y="573" width="2" height="1"/>
<rect x="3" y="580" width="1" height="3"/>
<rect x="67" y="580" width="1" height="3"/>
<rect x="131" y="580" width="1" height="3"/>
<rect x="195" y="580" width="1" height="3"/>
<rect x="259" y="580" width="1" height="3"/>
<rect x="323" y="580" width="1" height="3"/>
<rect x="387" y="580" width="1" height="3"/>
<rect x="451" y="580" width="1" height="3"/>
<rect x="515" y="580" width="1" height="3"/>
<rect x="579" y="580" width="1" height="3"/>
<rect x="643" y="580" width="1" height="3"/>
<rect x="707" y="580" width="1" height="3"/>
</g>
<text x="766.5" y="27.8" font-size="9.4" fill="#000" stroke="#000" textLength="27.5" lengthAdjust="spacingAndGlyphs">119.55</text>
<text x="766.5" y="61.8" font-size="9.4" fill="#000" stroke="#000" textLength="27.5" lengthAdjust="spacingAndGlyphs">118.80</text>
<text x="766.5" y="94.8" font-size="9.4" fill="#000" stroke="#000" textLength="27.5" lengthAdjust="spacingAndGlyphs">118.05</text>
<text x="766.5" y="127.8" font-size="9.4" fill="#000" stroke="#000" textLength="27.5" lengthAdjust="spacingAndGlyphs">117.30</text>
<text x="766.5" y="161.8" font-size="9.4" fill="#000" stroke="#000" textLength="27.5" lengthAdjust="spacingAndGlyphs">116.55</text>
<text x="766.5" y="194.8" font-size="9.4" fill="#000" stroke="#000" textLength="27.5" lengthAdjust="spacingAndGlyphs">115.80</text>
<text x="766.5" y="228.8" font-size="9.4" fill="#000" stroke="#000" textLength="27.5" lengthAdjust="spacingAndGlyphs">115.05</text>
<text x="766.5" y="262.8" font-size="9.4" fill="#000" stroke="#000" textLength="27.5" lengthAdjust="spacingAndGlyphs">114.30</text>
<text x="766.5" y="295.8" font-size="9.4" fill="#000" stroke="#000" textLength="27.5" lengthAdjust="spacingAndGlyphs">113.55</text>
<text x="766.5" y="329.8" font-size="9.4" fill="#000" stroke="#000" textLength="27.5" lengthAdjust="spacingAndGlyphs">112.80</text>
<text x="766.5" y="362.8" font-size="9.4" fill="#000" stroke="#000" textLength="27.5" lengthAdjust="spacingAndGlyphs">112.05</text>
<text x="766.5" y="396.8" font-size="9.4" fill="#000" stroke="#000" textLength="27.5" lengthAdjust="spacingAndGlyphs">111.30</text>
<text x="766.5" y="429.8" font-size="9.4" fill="#000" stroke="#000" textLength="27.5" lengthAdjust="spacingAndGlyphs">110.55</text>
<rect x="762" y="42" width="36" height="11" fill="#ee1111" shape-rendering="crispEdges"/>
<text x="766.5" y="51" font-size="9.4" fill="#fff" stroke="#fff" textLength="27.5" lengthAdjust="spacingAndGlyphs">119.00</text>
<rect x="762" y="76" width="36" height="11" fill="#ee1111" shape-rendering="crispEdges"/>
<text x="766.5" y="85" font-size="9.4" fill="#fff" stroke="#fff" textLength="27.5" lengthAdjust="spacingAndGlyphs">118.24</text>
<rect x="762" y="108" width="36" height="11" fill="#ee1111" shape-rendering="crispEdges"/>
<text x="766.5" y="117" font-size="9.4" fill="#fff" stroke="#fff" textLength="27.5" lengthAdjust="spacingAndGlyphs">117.54</text>
<rect x="762" y="176" width="36" height="11" fill="#ee1111" shape-rendering="crispEdges"/>
<text x="766.5" y="185" font-size="9.4" fill="#fff" stroke="#fff" textLength="27.5" lengthAdjust="spacingAndGlyphs">116.00</text>
<rect x="762" y="226" width="36" height="11" fill="#ee1111" shape-rendering="crispEdges"/>
<text x="766.5" y="235" font-size="9.4" fill="#fff" stroke="#fff" textLength="27.5" lengthAdjust="spacingAndGlyphs">114.89</text>
<rect x="762" y="266" width="36" height="11" fill="#ee1111" shape-rendering="crispEdges"/>
<text x="766.5" y="275" font-size="9.4" fill="#fff" stroke="#fff" textLength="27.5" lengthAdjust="spacingAndGlyphs">114.00</text>
<rect x="762" y="357" width="36" height="11" fill="#ee1111" shape-rendering="crispEdges"/>
<text x="766.5" y="366" font-size="9.4" fill="#fff" stroke="#fff" textLength="27.5" lengthAdjust="spacingAndGlyphs">111.97</text>
<rect x="762" y="400" width="36" height="11" fill="#ee1111" shape-rendering="crispEdges"/>
<text x="766.5" y="409" font-size="9.4" fill="#fff" stroke="#fff" textLength="27.5" lengthAdjust="spacingAndGlyphs">111.00</text>
<rect x="762" y="316" width="36" height="11" fill="#000" shape-rendering="crispEdges"/>
<text x="766.5" y="324.8" font-size="9.4" fill="#fff" stroke="#fff" textLength="27.5" lengthAdjust="spacingAndGlyphs">112.90</text>
<text x="764.5" y="442" font-size="9.4" fill="#000" stroke="#000" textLength="22.5" lengthAdjust="spacingAndGlyphs">0.808</text>
<text x="764.5" y="517" font-size="9.4" fill="#000" stroke="#000" textLength="17" lengthAdjust="spacingAndGlyphs">0.00</text>
<text x="764" y="576.5" font-size="9.4" fill="#000" stroke="#000" textLength="25.7" lengthAdjust="spacingAndGlyphs">-0.653</text>
<path d="M6,9 L13,9 L9.5,13 Z" fill="#000"/>
<text x="18.7" y="13.8" font-size="9.7" fill="#000" stroke="#000" textLength="49.4" lengthAdjust="spacingAndGlyphs">USDJPY,H1</text>
<text x="75.7" y="13.8" font-size="9.7" fill="#000" stroke="#000" textLength="27.2" lengthAdjust="spacingAndGlyphs">112.88</text>
<text x="106.9" y="13.8" font-size="9.7" fill="#000" stroke="#000" textLength="27.2" lengthAdjust="spacingAndGlyphs">112.92</text>
<text x="137.5" y="13.8" font-size="9.7" fill="#000" stroke="#000" textLength="27.2" lengthAdjust="spacingAndGlyphs">112.88</text>
<text x="168.5" y="13.8" font-size="9.7" fill="#000" stroke="#000" textLength="27.2" lengthAdjust="spacingAndGlyphs">112.90</text>
<text x="7.5" y="443.8" font-size="9.7" fill="#000" stroke="#000" textLength="115.5" lengthAdjust="spacingAndGlyphs">MACD(6,34,5) -0.082 0.119</text>
<text x="3" y="592" font-size="9.7" fill="#000" stroke="#000" textLength="50.7" lengthAdjust="spacingAndGlyphs">17 Feb 2016</text>
<text x="67" y="592" font-size="9.7" fill="#000" stroke="#000" textLength="54.2" lengthAdjust="spacingAndGlyphs">18 Feb 07:00</text>
<text x="131" y="592" font-size="9.7" fill="#000" stroke="#000" textLength="54.2" lengthAdjust="spacingAndGlyphs">18 Feb 23:00</text>
<text x="195" y="592" font-size="9.7" fill="#000" stroke="#000" textLength="54.2" lengthAdjust="spacingAndGlyphs">19 Feb 15:00</text>
<text x="259" y="592" font-size="9.7" fill="#000" stroke="#000" textLength="54.2" lengthAdjust="spacingAndGlyphs">22 Feb 08:00</text>
<text x="323" y="592" font-size="9.7" fill="#000" stroke="#000" textLength="54.2" lengthAdjust="spacingAndGlyphs">23 Feb 00:00</text>
<text x="387" y="592" font-size="9.7" fill="#000" stroke="#000" textLength="54.2" lengthAdjust="spacingAndGlyphs">23 Feb 16:00</text>
<text x="451" y="592" font-size="9.7" fill="#000" stroke="#000" textLength="54.2" lengthAdjust="spacingAndGlyphs">24 Feb 08:00</text>
<text x="515" y="592" font-size="9.7" fill="#000" stroke="#000" textLength="54.2" lengthAdjust="spacingAndGlyphs">25 Feb 00:00</text>
<text x="579" y="592" font-size="9.7" fill="#000" stroke="#000" textLength="54.2" lengthAdjust="spacingAndGlyphs">25 Feb 16:00</text>
<text x="643" y="592" font-size="9.7" fill="#000" stroke="#000" textLength="54.2" lengthAdjust="spacingAndGlyphs">26 Feb 08:00</text>
<text x="707" y="592" font-size="9.7" fill="#000" stroke="#000" textLength="54.2" lengthAdjust="spacingAndGlyphs">29 Feb 01:00</text>
<text x="586" y="589" font-size="31" font-style="italic" font-weight="bold" fill="#cbc9c9" fill-opacity="0.5" textLength="193" lengthAdjust="spacingAndGlyphs" style="font-family:'Liberation Serif',serif">SMGroup</text>
</svg></body></html>
